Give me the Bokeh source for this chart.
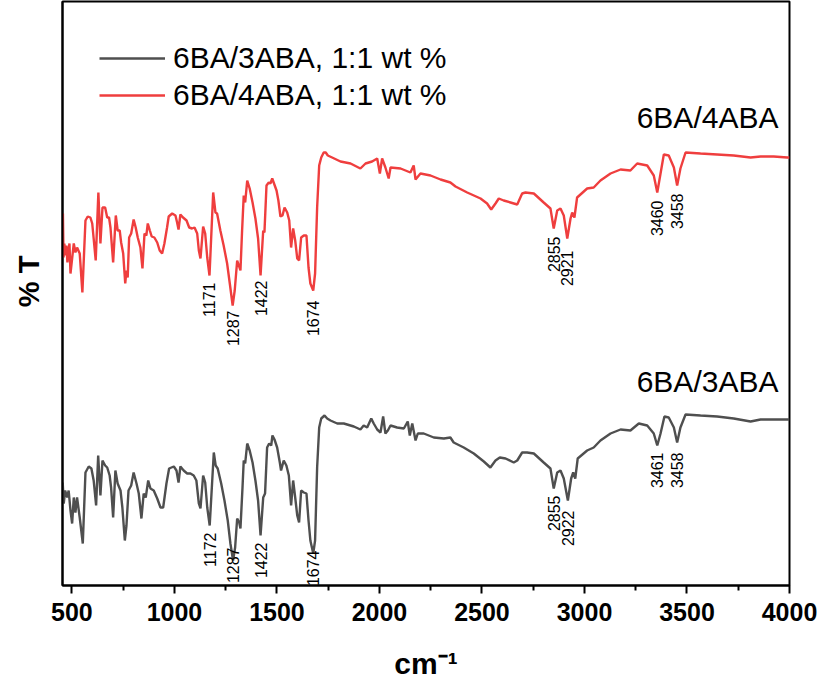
import numpy as np
from bokeh.plotting import figure
from bokeh.models import Range1d, FixedTicker, Legend, LegendItem, Label, ColumnDataSource
from bokeh.core.properties import value
from bokeh.embed import file_html
from bokeh.resources import INLINE

# ---------------- data (wavenumber cm-1, transmittance in arbitrary offset units) -------------
red_wn = [456, 459, 463, 468, 473, 478, 483, 488, 493, 509, 517, 525, 538, 551, 566, 577, 590, 599, 606, 616,
          629, 639, 649, 662, 672, 681, 688, 701, 714, 723, 733, 740, 750, 760, 766, 772, 779, 789, 801, 811,
          821, 834, 844, 854, 863, 870, 880, 889, 902, 916, 928, 940, 951, 964, 972, 989, 1005, 1013, 1020, 1029,
          1042, 1059, 1072, 1086, 1098, 1111, 1119, 1127, 1140, 1150, 1160, 1171, 1189, 1200, 1208, 1224, 1240,
          1257, 1270, 1284, 1294, 1306, 1314, 1322, 1330, 1338, 1345, 1355, 1367, 1381, 1395, 1408, 1420, 1433,
          1439, 1449, 1460, 1468, 1477, 1484, 1498, 1507, 1517, 1527, 1537, 1550, 1560, 1569, 1579, 1589, 1599,
          1608, 1618, 1631, 1644, 1654, 1663, 1677, 1686, 1696, 1706, 1716, 1728, 1738, 1748, 1769, 1810, 1859,
          1907, 1932, 1964, 1989, 2002, 2013, 2029, 2045, 2054, 2103, 2151, 2167, 2176, 2200, 2249, 2298, 2346,
          2371, 2428, 2493, 2525, 2545, 2566, 2582, 2606, 2639, 2672, 2696, 2712, 2753, 2801, 2834, 2850, 2867,
          2883, 2899, 2916, 2932, 2940, 2951, 2964, 3013, 3045, 3078, 3127, 3176, 3224, 3257, 3306, 3338, 3355,
          3371, 3387, 3411, 3436, 3452, 3468, 3493, 3566, 3647, 3728, 3810, 3859, 3923, 3989, 4000]
red_T = [372, 328, 342, 330, 340, 323, 335, 342, 312, 342, 333, 338, 332, 293, 365, 369, 368, 362, 347, 325,
         393, 342, 378, 378, 368, 368, 358, 323, 370, 355, 355, 343, 332, 302, 315, 308, 348, 352, 366, 358,
         348, 338, 317, 352, 350, 362, 355, 349, 348, 343, 335, 332, 342, 358, 369, 372, 370, 363, 356, 371,
         368, 365, 358, 357, 358, 352, 335, 327, 359, 352, 328, 310, 393, 373, 372, 355, 340,
         322, 302, 280, 295, 325, 320, 315, 355, 390, 383, 405, 397, 383, 367, 347, 310, 355,
         353, 400, 403, 402, 407, 403, 395, 385, 369, 370, 378, 373, 365, 338, 357, 345, 327,
         325, 348, 350, 350, 318, 302, 295, 312, 378, 420, 428, 433, 433, 430, 428, 424, 422,
         417, 422, 424, 427, 412, 427, 418, 407, 418, 417, 413, 420, 406, 412, 410, 406, 403,
         399, 393, 387, 382, 376, 382, 387, 385, 383, 381, 392, 393, 392, 383, 377, 357, 375,
         377, 370, 347, 367, 373, 368, 388, 397, 398, 405, 412, 416, 415, 422, 420, 410, 393,
         412, 431, 430, 418, 400, 417, 433, 432, 431, 430, 428, 429, 429, 428, 428]

black_wn = [455, 460, 467, 477, 484, 493, 501, 509, 517, 525, 538, 553, 566, 582, 595, 606, 618, 628, 639, 649,
            662, 672, 684, 691, 701, 712, 723, 737, 746, 758, 766, 776, 789, 801, 815, 826, 839, 850, 860, 872,
            883, 899, 916, 932, 945, 961, 974, 997, 1010, 1020, 1029, 1045, 1062, 1078, 1094, 1107, 1119, 1127,
            1140, 1150, 1160, 1172, 1192, 1201, 1211, 1228, 1244, 1260, 1273, 1286, 1296, 1306, 1316, 1322, 1332,
            1338, 1345, 1355, 1367, 1381, 1395, 1408, 1420, 1433, 1442, 1452, 1462, 1472, 1478, 1488, 1501, 1514,
            1520, 1533, 1546, 1558, 1569, 1579, 1589, 1599, 1608, 1618, 1631, 1644, 1654, 1663, 1677, 1686, 1696,
            1706, 1716, 1732, 1745, 1761, 1794, 1826, 1875, 1907, 1923, 1940, 1960, 1972, 1989, 2005, 2018, 2029,
            2041, 2054, 2086, 2119, 2138, 2148, 2160, 2176, 2187, 2216, 2265, 2314, 2346, 2362, 2411, 2460, 2509,
            2541, 2566, 2587, 2615, 2655, 2672, 2696, 2720, 2753, 2801, 2834, 2850, 2867, 2883, 2899, 2919, 2935,
            2945, 2955, 2967, 3013, 3045, 3078, 3127, 3176, 3224, 3265, 3306, 3338, 3355, 3371, 3390, 3411, 3436,
            3452, 3468, 3493, 3566, 3647, 3728, 3810, 3859, 3923, 3989, 4000]
black_T = [103, 82, 95, 88, 95, 75, 62, 88, 73, 88, 68, 42, 113, 119, 117, 105, 80, 130, 90, 125,
           120, 118, 110, 98, 68, 115, 102, 95, 78, 45, 60, 95, 100, 113, 102, 92, 67, 92, 88, 105,
           97, 95, 87, 78, 78, 102, 117, 119, 115, 103, 119, 115, 112, 112, 110, 105, 82, 77,
           110, 103, 78, 60, 133, 120, 117, 102, 85, 65, 42, 25, 38, 67, 63, 57, 98,
           125, 122, 142, 135, 123, 105, 85, 50, 88, 92, 138, 142, 140, 150, 146, 138, 123,
           115, 125, 120, 110, 80, 105, 88, 70, 63, 95, 93, 92, 65, 45, 32, 45, 118,
           158, 167, 170, 167, 165, 162, 162, 159, 156, 160, 158, 167, 162, 156, 153, 169, 152,
           155, 160, 158, 157, 164, 150, 162, 145, 152, 152, 148, 147, 148, 143, 138, 132, 124,
           118, 125, 128, 127, 123, 125, 133, 133, 132, 123, 117, 97, 113, 115, 107, 85, 107,
           113, 107, 127, 135, 138, 145, 152, 156, 155, 162, 160, 152, 140, 152, 169, 168, 158,
           143, 158, 171, 170, 169, 167, 164, 166, 166, 166, 166]

# peak annotations: printed text, position of the marked minimum
red_peak_text = ["1171", "1287", "1422", "1674", "2855", "2921", "3460", "3458"]
red_peak_pos = [1171, 1284, 1420, 1677, 2850, 2916, 3355, 3452]
black_peak_text = ["1172", "1287", "1422", "1674", "2855", "2922", "3461", "3458"]
black_peak_pos = [1172, 1286, 1420, 1677, 2850, 2919, 3355, 3452]

x_ticks = [500, 1000, 1500, 2000, 2500, 3000, 3500, 4000]
x_minor = [750, 1250, 1750, 2250, 2750, 3250, 3750]

legend_labels = ["6BA/3ABA, 1:1 wt %", "6BA/4ABA, 1:1 wt %"]
trace_names = ["6BA/3ABA", "6BA/4ABA"]

RED = "#ef3e3e"
GREY = "#4f4f4f"

# --------------------------------- figure ---------------------------------------------------
p = figure(width=819, height=685, output_backend="svg", toolbar_location=None,
           x_range=Range1d(454, 4000), y_range=Range1d(0, 584),
           min_border_left=62, min_border_right=30, min_border_top=1, min_border_bottom=100,
           background_fill_color="white", border_fill_color="white")
p.xgrid.visible = False
p.ygrid.visible = False
p.outline_line_color = "black"
p.outline_line_width = 2
p.outline_line_alpha = 1

rb = p.line(black_wn, black_T, line_color=GREY, line_width=2.4)
rr = p.line(red_wn, red_T, line_color=RED, line_width=2.4)

# peak labels
def peak_source(wn, T, texts, pos, gaps):
    ys = [float(np.interp(x, wn, T)) for x in pos]
    return ColumnDataSource(dict(x=pos, y=ys, text=texts, off=gaps))

red_gap = [7, 5, 5, 10, 8, 12, 8, 8]
black_gap = [7, -13, 7, -3, 7, 10, 7, 10]
for src in (peak_source(red_wn, red_T, red_peak_text, red_peak_pos, red_gap),
            peak_source(black_wn, black_T, black_peak_text, black_peak_pos, black_gap)):
    p.text(x="x", y="y", text="text", source=src, angle=np.pi / 2, text_align="right",
           text_baseline="middle", y_offset="off", text_font=value("Liberation Sans"),
           text_font_size="16px", text_color="black")

# trace names
p.add_layout(Label(x=3946, y=468, text=trace_names[1], text_align="right", text_baseline="alphabetic",
                   text_font="Liberation Sans", text_font_size="30px", text_color="black"))
p.add_layout(Label(x=3946, y=204, text=trace_names[0], text_align="right", text_baseline="alphabetic",
                   text_font="Liberation Sans", text_font_size="30px", text_color="black"))

# axes
xa = p.xaxis[0]
xa.ticker = FixedTicker(ticks=x_ticks, minor_ticks=x_minor)
xa.axis_line_width = 2
xa.axis_line_color = "black"
xa.major_tick_in = 0
xa.major_tick_out = 8
xa.minor_tick_in = 0
xa.minor_tick_out = 5
xa.major_tick_line_width = 2
xa.minor_tick_line_width = 2
xa.major_tick_line_color = "black"
xa.minor_tick_line_color = "black"
xa.major_label_text_font = "Liberation Sans"
xa.major_label_text_font_style = "bold"
xa.major_label_text_font_size = "25px"
xa.major_label_text_color = "black"
xa.major_label_standoff = 9
xa.axis_label = "cm\u207b\u00b9"
xa.axis_label_text_font = "Liberation Sans"
xa.axis_label_text_font_style = "bold"
xa.axis_label_text_font_size = "30px"
xa.axis_label_text_color = "black"
xa.axis_label_standoff = 23

ya = p.yaxis[0]
ya.ticker = FixedTicker(ticks=[])
ya.axis_line_width = 2
ya.axis_line_color = "black"
ya.major_tick_line_color = None
ya.minor_tick_line_color = None
ya.major_label_text_font_size = "0px"
ya.axis_label = "\u00a0\u00a0\u00a0% T"
ya.axis_label_text_font = "Liberation Sans"
ya.axis_label_text_font_style = "bold"
ya.axis_label_text_font_size = "29px"
ya.axis_label_text_color = "black"
ya.axis_label_standoff = 18

legend = Legend(items=[LegendItem(label=legend_labels[0], renderers=[rb]),
                       LegendItem(label=legend_labels[1], renderers=[rr])],
                location=(37, 473), border_line_color=None, background_fill_alpha=0,
                glyph_width=66, glyph_height=30, label_height=30, spacing=3, padding=10, margin=0,
                label_standoff=8, label_text_font="Liberation Sans", label_text_font_size="30px",
                label_text_color="black")
p.add_layout(legend)

open("out.html", "w").write(file_html(p, INLINE))
